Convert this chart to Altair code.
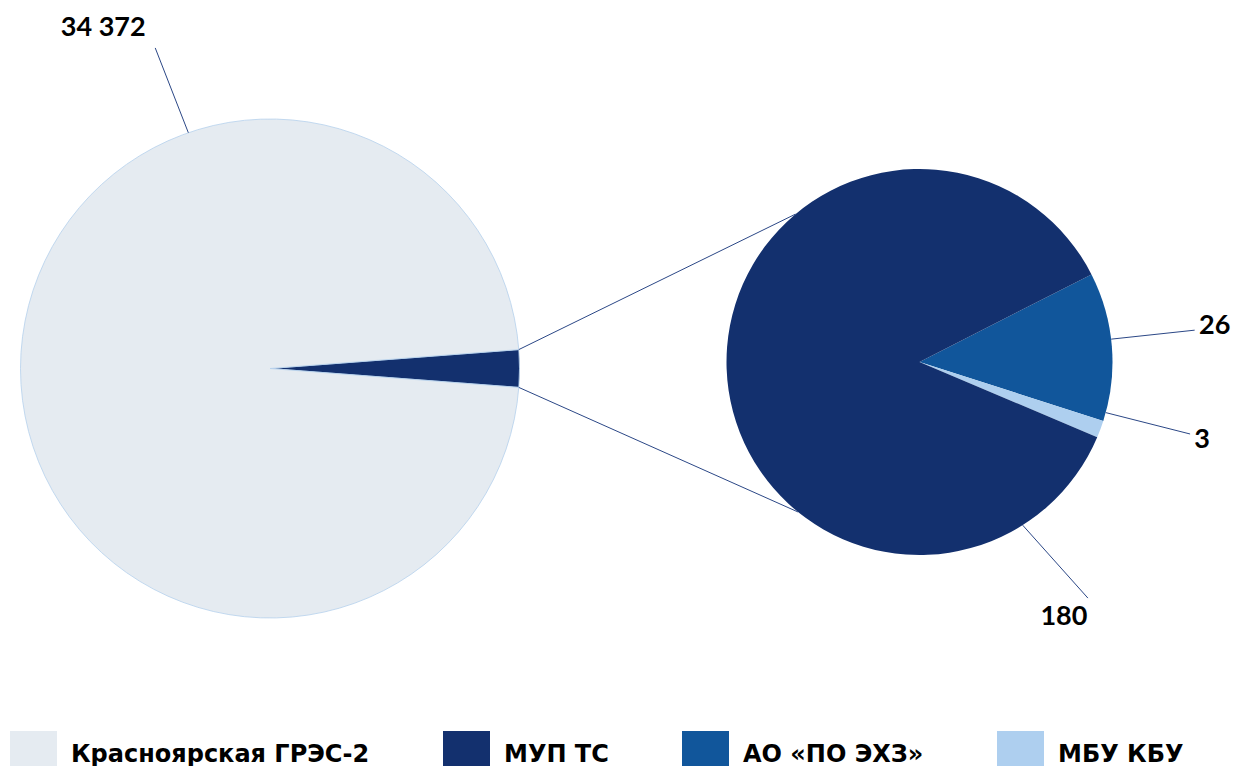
import math
import altair as alt
import pandas as pd

# ---- data ----
categories = ["Красноярская ГРЭС-2", "МУП ТС", "АО «ПО ЭХЗ»", "МБУ КБУ"]
colors = ["#E5EBF1", "#13306E", "#11569B", "#AECFEF"]

main_names = ["МУП ТС", "Красноярская ГРЭС-2"]  # dark slice = expanded part
main_values = [850, 34372]
main_labels = ["", "34 372"]

detail_names = ["АО «ПО ЭХЗ»", "МБУ КБУ", "МУП ТС"]
detail_values = [26, 3, 180]
detail_labels = ["26", "3", "180"]

# ---- layout (chart pixel coords) ----
W, H = 1223, 758
MCX, MCY, MR = 262, 360.5, 249.5
DCX, DCY, DR = 911.5, 354, 193
DETAIL_START = 63.0  # degrees clockwise from 12 o'clock
LINE_COLOR = "#2B4786"


def polar(cx, cy, r, deg):
    a = math.radians(deg)
    return cx + r * math.sin(a), cy - r * math.cos(a)


main_total = sum(main_values)
delta = 360.0 * main_values[0] / main_total
main_start = 90.0 - delta / 2

main_df = pd.DataFrame({"name": main_names, "v": main_values, "o": [0, 1]})
detail_df = pd.DataFrame({"name": detail_names, "v": detail_values, "o": [0, 1, 2]})

color_enc = alt.Color(
    "name:N",
    scale=alt.Scale(domain=categories, range=colors),
    legend=alt.Legend(title=None, orient="none", direction="horizontal", columns=4),
)


def theta_enc(start_deg):
    s = math.radians(start_deg)
    return alt.Theta("v:Q", stack=True, scale=alt.Scale(range=[s, s + 2 * math.pi]))


main_pie = alt.Chart(main_df).mark_arc(radius=MR, stroke="#B5D0EC", strokeWidth=0.8).encode(
    theta=theta_enc(main_start), color=color_enc, order=alt.Order("o:Q"),
    x=alt.value(MCX), y=alt.value(MCY),
)
detail_pie = alt.Chart(detail_df).mark_arc(radius=DR).encode(
    theta=theta_enc(DETAIL_START), color=color_enc, order=alt.Order("o:Q"),
    x=alt.value(DCX), y=alt.value(DCY),
)

# connector lines from the expanded slice to the detail pie
segs = []
for a_main, a_det in [(main_start, 320.0), (main_start + delta, 219.0)]:
    x1, y1 = polar(MCX, MCY, MR, a_main)
    x2, y2 = polar(DCX, DCY, DR, a_det)
    segs.append({"x": x1, "y": y1, "x2": x2, "y2": y2})

# leader lines + labels: (center, radius, start angle, end angle, end radius, dx, dy, text)
leaders = [
    (MCX, MCY, MR, 340.9, 340.3, 340.5, -52, -20, main_labels[1]),
    (DCX, DCY, DR, 83.2, 83.4, 277, 20, -4, detail_labels[0]),
    (DCX, DCY, DR, 105.2, 104.9, 280, 12, 6, detail_labels[1]),
    (DCX, DCY, DR, 147.7, 144.5, 290, -24, 19, detail_labels[2]),
]
texts = []
for cx, cy, r, a1, a2, r2, dx, dy, t in leaders:
    x1, y1 = polar(cx, cy, r, a1)
    x2, y2 = polar(cx, cy, r2, a2)
    segs.append({"x": x1, "y": y1, "x2": x2, "y2": y2})
    texts.append({"x": x2 + dx, "y": y2 + dy, "t": t})

seg_df = pd.DataFrame(segs)
txt_df = pd.DataFrame(texts)

rules = alt.Chart(seg_df).mark_rule(color=LINE_COLOR, strokeWidth=1).encode(
    x=alt.X("x:Q", scale=None, axis=None),
    y=alt.Y("y:Q", scale=None, axis=None),
    x2="x2:Q",
    y2="y2:Q",
)
labels = alt.Chart(txt_df).mark_text(
    font="Lato", fontSize=27, fontWeight="bold", color="#000000", align="center", baseline="middle"
).encode(
    x=alt.X("x:Q", scale=None, axis=None),
    y=alt.Y("y:Q", scale=None, axis=None),
    text="t:N",
)

chart = (
    alt.layer(main_pie, detail_pie, rules, labels)
    .resolve_scale(theta="independent")
    .properties(width=W, height=H, padding=0, autosize="none")
    .configure_view(stroke=None)
    .configure_legend(
        legendX=2,
        legendY=723,
        padding=0,
        symbolType="square",
        symbolSize=2209,
        symbolStrokeWidth=0,
        symbolOpacity=1,
        labelFont="DejaVu Sans",
        labelFontSize=24,
        labelFontWeight="bold",
        labelColor="#000000",
        labelOffset=14,
        columnPadding=73,
        labelLimit=400,
    )
)

chart.save("out.html", embed_options={"renderer": "svg", "actions": False})
